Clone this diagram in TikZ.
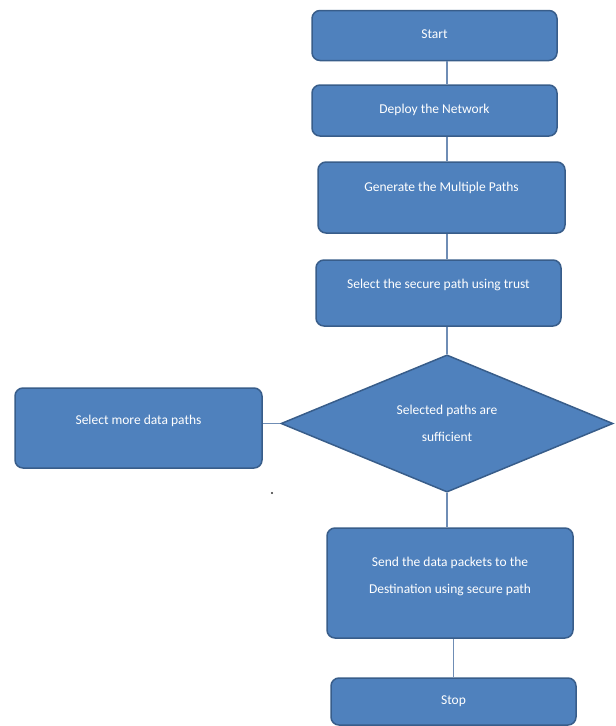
\documentclass[tikz,border=0pt]{standalone}
\usepackage{fontspec}
\setmainfont{Carlito}
\usetikzlibrary{shapes.geometric}

\definecolor{boxblue}{HTML}{4F81BD}
\definecolor{boxedge}{HTML}{385D8A}
\definecolor{linkblue}{HTML}{6F8DB5}

\begin{document}
\begin{tikzpicture}[
  x=1pt, y=-1pt,
  every node/.style={font=\fontsize{13.5}{27}\selectfont, text=white},
  box/.style={draw=boxedge, fill=boxblue, line width=1.5pt, rounded corners=8pt, align=center, inner sep=0pt},
  textup/.style={text height=9pt, text depth=#1},
  decision/.style={diamond, draw=boxedge, fill=boxblue, line width=1.5pt, align=center, inner sep=0pt},
  link/.style={draw=linkblue, line width=1.3pt},
]

\useasboundingbox (0,0) rectangle (616,726);

\node[box, textup=3pt, minimum width=245pt, minimum height=50pt] (start) at (434.5,35.5) {Start};
\node[box, textup=3pt, minimum width=245pt, minimum height=51pt] (deploy) at (434.5,110.5) {Deploy the Network};
\node[box, textup=21pt, minimum width=247pt, minimum height=71pt] (paths) at (441.5,197.5) {Generate the Multiple Paths};
\node[box, textup=18pt, minimum width=245pt, minimum height=66pt] (secure) at (438.5,293) {Select the secure path using trust};

\node[decision, minimum width=332pt, minimum height=137pt] (check) at (447,423.5) {Selected paths are\\sufficient};
\node[box, textup=16pt, minimum width=247pt, minimum height=80pt] (more) at (138.5,428) {Select more data paths};

\node[box, text depth=40pt, minimum width=246pt, minimum height=110pt] (send) at (450,583)
  {\begin{tabular}{@{}c@{}}Send the data packets to the\\Destination using secure path\end{tabular}};
\node[box, textup=3pt, minimum width=245pt, minimum height=47pt] (stop) at (453.5,701.5) {Stop};

% connectors
\draw[link] (start.south -| check.north) -- (deploy.north -| check.north);
\draw[link] (deploy.south -| check.north) -- (paths.north -| check.north);
\draw[link] (paths.south -| check.north) -- (secure.north -| check.north);
\draw[link] (secure.south -| check.north) -- (check.north);
\draw[link] (check.west) -- (check.west -| more.east);
\draw[link] (check.south) -- (send.north -| check.south);
\draw[link] (send.south -| stop.north) -- (stop.north);

\fill[black!80] (272,493) circle (1.2pt);

\end{tikzpicture}
\end{document}
